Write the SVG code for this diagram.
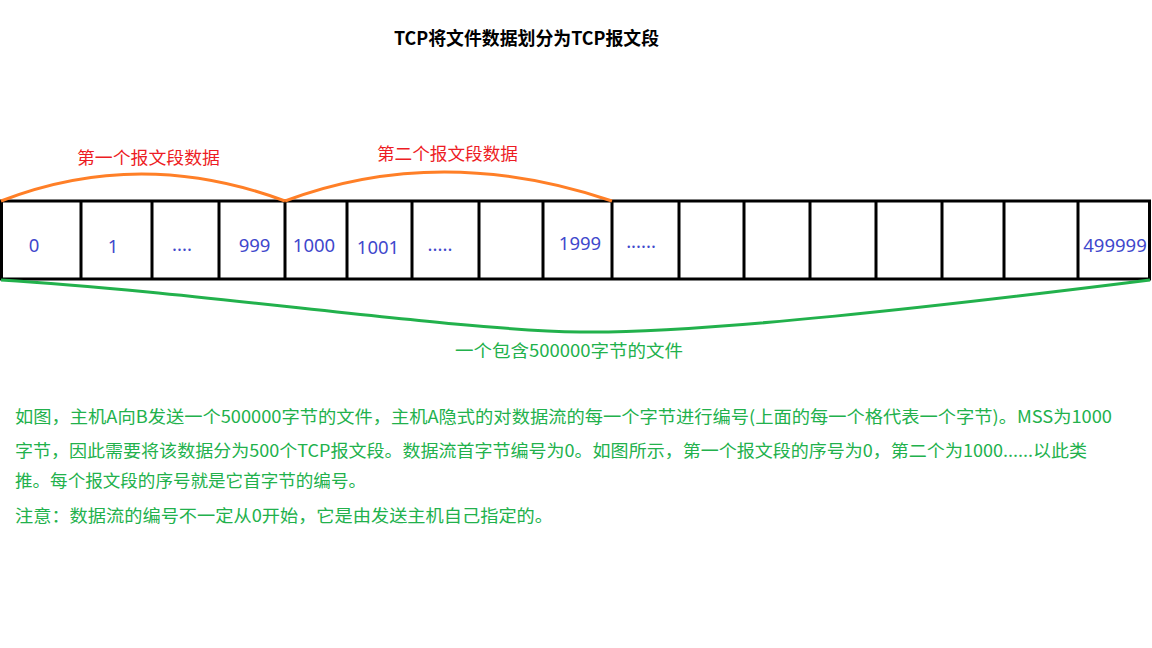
<svg xmlns="http://www.w3.org/2000/svg" width="1152" height="648" viewBox="0 0 1152 648">
<style>
text{font-family:"Microsoft YaHei","Noto Sans CJK SC","Noto Sans",sans-serif}
.num{fill:#3f48cc;font-size:18.5px;text-anchor:middle;font-family:"Noto Sans","Noto Sans CJK SC",sans-serif}
.grid{stroke:#000;stroke-width:3;fill:none}
.red{fill:#ed1c24;font-size:17px}
.grn{fill:#22b14c;font-size:17px}
.title{font-size:18px;font-weight:bold;fill:#000}
</style>
<rect width="1152" height="648" fill="#fff"/>
<text class="title" x="394" y="45" textLength="265" lengthAdjust="spacingAndGlyphs">TCP将文件数据划分为TCP报文段</text>
<g id="cells">
<path class="grid" d="M0,201H1151M0,279H1151M1.5,201V279M81,201V279M152,201V279M219,201V279M285,201V279M347,201V279M412,201V279M479,201V279M543,201V279M612,201V279M679,201V279M744,201V279M810,201V279M876,201V279M942,201V279M1004,201V279M1078,201V279M1149.5,201V279"/>
</g>
<g id="labels-cells">
<text class="num" x="34" y="252">0</text>
<text class="num" x="113" y="253">1</text>
<text class="num" x="182" y="251">....</text>
<text class="num" x="254.5" y="252">999</text>
<text class="num" x="314" y="252">1000</text>
<text class="num" x="378" y="254">1001</text>
<text class="num" x="440" y="251">.....</text>
<text class="num" x="580" y="250">1999</text>
<text class="num" x="641" y="248">......</text>
<text class="num" x="1115" y="252">499999</text>
</g>
<g id="connectors" fill="none" stroke-width="3">
<path d="M1,201 Q140,147 285,201" stroke="#ff7f27"/>
<path d="M285,201 Q440,143 612,201" stroke="#ff7f27"/>
<path d="M1,280 C200,292 450,330 580,332 C700,334 950,305 1150,280" stroke="#22b14c"/>
</g>
<g id="seg1"><text class="red" x="77" y="164" textLength="143" lengthAdjust="spacingAndGlyphs">第一个报文段数据</text></g>
<g id="seg2"><text class="red" x="377" y="160" textLength="141" lengthAdjust="spacingAndGlyphs">第二个报文段数据</text></g>
<g id="file"><text class="grn" x="455" y="357" textLength="228" lengthAdjust="spacingAndGlyphs">一个包含500000字节的文件</text></g>
<g id="desc">
<text class="grn" x="15" y="423" textLength="1097" lengthAdjust="spacingAndGlyphs">如图，主机A向B发送一个500000字节的文件，主机A隐式的对数据流的每一个字节进行编号(上面的每一个格代表一个字节)。MSS为1000</text>
<text class="grn" x="15" y="457" textLength="1072" lengthAdjust="spacingAndGlyphs">字节，因此需要将该数据分为500个TCP报文段。数据流首字节编号为0。如图所示，第一个报文段的序号为0，第二个为1000......以此类</text>
<text class="grn" x="15" y="487" textLength="351" lengthAdjust="spacingAndGlyphs">推。每个报文段的序号就是它首字节的编号。</text>
<text class="grn" x="15" y="522" textLength="538" lengthAdjust="spacingAndGlyphs">注意：数据流的编号不一定从0开始，它是由发送主机自己指定的。</text>
</g>
</svg>
